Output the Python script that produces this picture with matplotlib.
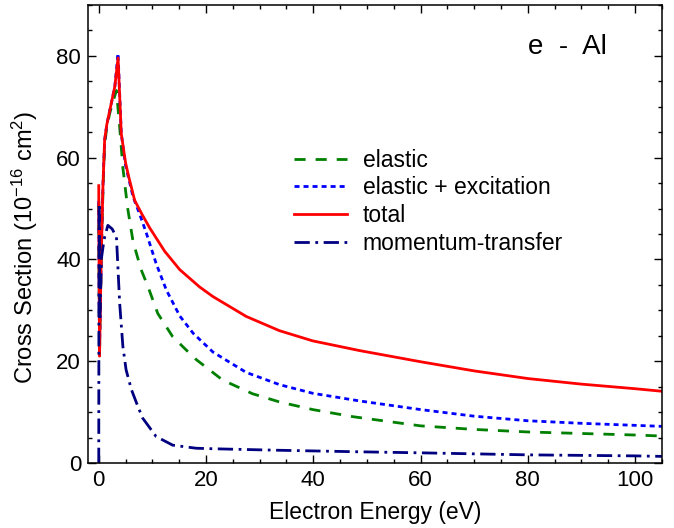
import matplotlib
matplotlib.use("Agg")
import matplotlib.pyplot as plt
from matplotlib.ticker import MultipleLocator

plt.rcParams["font.family"] = ["Liberation Sans", "DejaVu Sans"]
plt.rcParams["mathtext.default"] = "regular"

# e - Al cross sections (1e-16 cm^2) vs electron energy (eV)
elastic_x = [0.0, 0.05, 0.15, 0.25, 0.5, 0.8, 1.1, 1.5, 2.0, 2.5, 3.3, 3.9, 4.5, 5.4,
             6.4, 7.9, 9.2, 11.0, 13.8, 16.9, 18.2, 23.1, 28.7, 33.7, 39.9, 47.4,
             60, 70, 80, 90, 100, 105]
elastic_y = [51, 38, 22, 28, 42, 54, 62.5, 66, 68.5, 70.5, 73.2, 66, 58, 50,
             43.5, 38, 34.6, 29.4, 24.8, 21.6, 20.3, 16.3, 13.6, 12.0, 10.5, 9.1,
             7.3, 6.6, 6.1, 5.8, 5.5, 5.3]

excit_x = [0.0, 0.05, 0.15, 0.25, 0.5, 0.8, 1.1, 1.5, 2.0, 2.5, 3.0, 3.6, 4.2, 5.0,
           6.4, 7.6, 8.9, 10.7, 12.6, 15.1, 17.6, 21.3, 27.5, 33.7, 39.9, 48.6,
           60, 70, 80, 90, 100, 105]
excit_y = [51.5, 40, 22, 28, 42.5, 55, 63.5, 66.5, 69, 71.5, 74, 80.5, 64.7, 58.5,
           52.3, 49, 45.1, 39.2, 34, 28.9, 25.5, 21.8, 17.8, 15.4, 13.7, 12.2,
           10.5, 9.2, 8.3, 7.8, 7.4, 7.2]

total_x = [0.0, 0.05, 0.15, 0.25, 0.5, 0.8, 1.1, 1.5, 2.0, 2.5, 3.0, 3.6, 4.2, 5.0,
           5.6, 6.7, 8.0, 9.5, 12.3, 15.1, 18.8, 21.3, 27.5, 33.7, 39.9, 48.6,
           60, 70, 80, 90, 100, 105]
total_y = [54.5, 40, 21, 28, 42.5, 55, 63.5, 66.5, 69, 71.5, 74, 79.6, 64.7, 59,
           56.2, 51.6, 49, 46.2, 41.6, 38.0, 34.6, 32.7, 28.8, 26.0, 24.0, 22.1,
           19.9, 18.1, 16.6, 15.5, 14.6, 14.1]

mt_x = [0.0, 0.03, 0.08, 0.2, 0.5, 1.0, 1.7, 2.5, 3.3, 3.6, 3.9, 4.5, 5.1, 6.1,
        7.3, 8.2, 8.9, 10.7, 13.8, 18.2, 21.3, 33.7, 48.6, 60, 80, 100, 105]
mt_y = [0, 30, 51, 28, 40.2, 44, 46.7, 46, 44.4, 37.9, 31.4, 22.9, 18.3, 14.4,
        11.1, 8.8, 7.8, 5.2, 3.5, 2.9, 2.8, 2.5, 2.2, 2.0, 1.6, 1.4, 1.3]

fig = plt.figure(figsize=(6.74, 5.28), dpi=100)
ax = fig.add_axes([0.1306, 0.1231, 0.8514, 0.8674])

ax.plot(elastic_x, elastic_y, color="#008000", lw=2.0, ls=(0, (4, 3.6)), label="elastic")
ax.plot(excit_x, excit_y, color="#0000FF", lw=2.0, ls=(0, (1.8, 1.45)), label="elastic + excitation")
ax.plot(total_x, total_y, color="#FF0000", lw=2.0, label="total")
ax.plot(mt_x, mt_y, color="#000080", lw=2.0, ls=(0, (5.5, 2, 1, 2)), label="momentum-transfer")

ax.set_xlim(-2, 105)
ax.set_ylim(0, 90)
ax.xaxis.set_major_locator(MultipleLocator(20))
ax.xaxis.set_minor_locator(MultipleLocator(5))
ax.yaxis.set_major_locator(MultipleLocator(20))
ax.yaxis.set_minor_locator(MultipleLocator(5))
ax.tick_params(which="both", direction="in", top=True, right=True, width=1.0, labelsize=16)
ax.tick_params(which="major", length=5.5, pad=5)
ax.tick_params(which="minor", length=3)
for s in ax.spines.values():
    s.set_linewidth(1.1)

ax.set_xlabel("Electron Energy (eV)", fontsize=16.5, labelpad=7.5)
ax.set_ylabel("Cross Section (10$^{-16}$ cm$^2$)", fontsize=17, labelpad=6)
ax.yaxis.set_label_coords(-0.084, 0.47)

ax.text(0.904, 0.908, "e  -  Al", transform=ax.transAxes, fontsize=20,
        ha="right", va="center")

ax.legend(loc="upper left", bbox_to_anchor=(0.359, 0.686), frameon=False,
          fontsize=16.5, handlelength=2.3, handletextpad=0.7, labelspacing=0.2,
          borderpad=0, borderaxespad=0)

fig.savefig("out.png", dpi=100)
